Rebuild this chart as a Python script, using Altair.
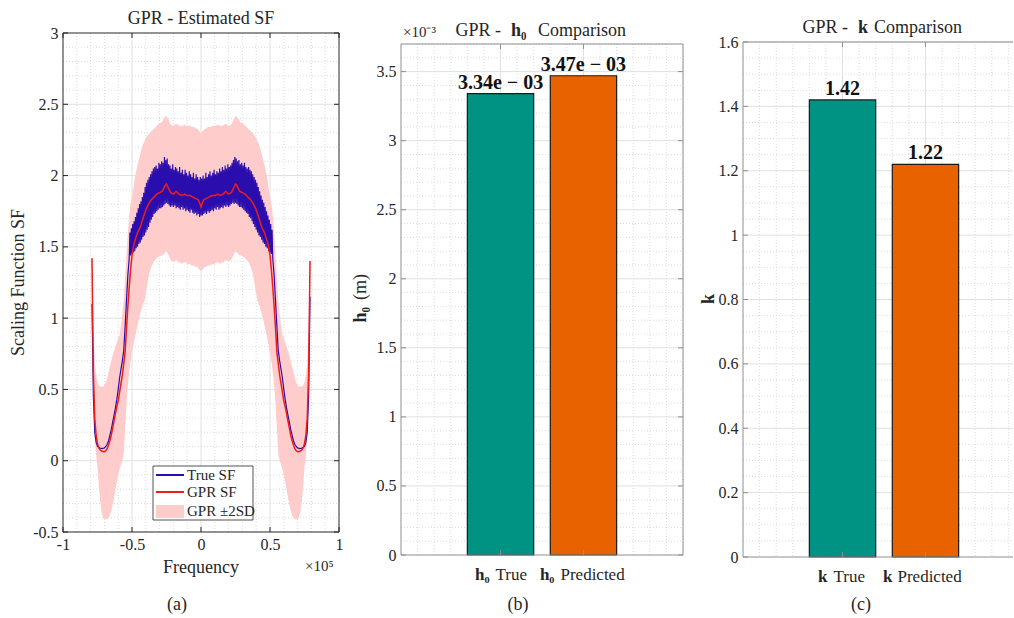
import altair as alt
import numpy as np
import pandas as pd

SERIF = "Liberation Serif"
DARK = "#262626"
BOX_GREY = "#8f8f8f"
MAJOR = "#e0e0e0"
MINOR = "#dcdcdc"

TRUE_COLOR = "#2a0dad"
GPR_COLOR = "#ee1c1c"
BAND_COLOR = "#ffcccc"

# ---------------- (a) scaling function vs. frequency ----------------
# GPR mean and +-2SD band, sampled every 0.01 (x 1e5)
freq = np.round(np.linspace(-0.79, 0.79, 159), 3)

gpr_sf = [
    1.42, 0.62, 0.30, 0.18, 0.12, 0.09, 0.075, 0.068, 0.064, 0.063,
    0.07, 0.085, 0.11, 0.14, 0.18, 0.23, 0.28, 0.33, 0.38, 0.42,
    0.48, 0.54, 0.60, 0.68, 0.76, 0.93, 1.08, 1.22, 1.34, 1.44,
    1.50, 1.54, 1.57, 1.60, 1.62, 1.64, 1.67, 1.70, 1.73, 1.76,
    1.78, 1.80, 1.815, 1.83, 1.84, 1.85, 1.86, 1.87, 1.875, 1.88,
    1.885, 1.89, 1.91, 1.93, 1.94, 1.92, 1.90, 1.88, 1.875, 1.87,
    1.88, 1.89, 1.88, 1.87, 1.865, 1.86, 1.865, 1.87, 1.865, 1.86,
    1.86, 1.86, 1.855, 1.85, 1.845, 1.84, 1.835, 1.83, 1.81,
    1.78,
    1.81, 1.83, 1.835, 1.84, 1.845, 1.85, 1.855, 1.86, 1.86, 1.86,
    1.865, 1.87, 1.865, 1.86, 1.865, 1.87, 1.88, 1.89, 1.88, 1.87,
    1.875, 1.88, 1.90, 1.92, 1.94, 1.93, 1.91, 1.89, 1.885, 1.88,
    1.875, 1.87, 1.86, 1.85, 1.84, 1.83, 1.815, 1.80, 1.78, 1.76,
    1.73, 1.70, 1.67, 1.64, 1.62, 1.60, 1.57, 1.54, 1.50, 1.44,
    1.34, 1.22, 1.08, 0.93, 0.76, 0.68, 0.60, 0.54, 0.48, 0.42,
    0.38, 0.33, 0.28, 0.23, 0.18, 0.14, 0.11, 0.085, 0.07, 0.063,
    0.064, 0.068, 0.075, 0.09, 0.12, 0.18, 0.30, 0.62, 1.40,
]

gpr_hi = [
    1.50, 0.95, 0.70, 0.60, 0.55, 0.53, 0.52, 0.52, 0.52, 0.53,
    0.55, 0.58, 0.62, 0.66, 0.70, 0.74, 0.77, 0.80, 0.83, 0.86,
    0.88, 0.95, 1.03, 1.12, 1.28, 1.45, 1.60, 1.72, 1.80, 1.85,
    1.91, 1.98, 2.03, 2.07, 2.11, 2.15, 2.19, 2.22, 2.24, 2.26,
    2.28, 2.29, 2.30, 2.31, 2.32, 2.33, 2.34, 2.35, 2.36, 2.37,
    2.37, 2.38, 2.40, 2.41, 2.42, 2.40, 2.38, 2.36, 2.35, 2.35,
    2.36, 2.36, 2.36, 2.35, 2.35, 2.35, 2.35, 2.36, 2.35, 2.35,
    2.35, 2.35, 2.34, 2.34, 2.34, 2.33, 2.33, 2.32, 2.31,
    2.29,
    2.31, 2.32, 2.33, 2.33, 2.34, 2.34, 2.34, 2.35, 2.35, 2.35,
    2.35, 2.36, 2.35, 2.35, 2.35, 2.35, 2.36, 2.36, 2.36, 2.35,
    2.35, 2.36, 2.38, 2.40, 2.42, 2.41, 2.40, 2.38, 2.37, 2.37,
    2.36, 2.35, 2.34, 2.33, 2.32, 2.31, 2.30, 2.29, 2.28, 2.26,
    2.24, 2.22, 2.19, 2.15, 2.11, 2.07, 2.03, 1.98, 1.91, 1.85,
    1.80, 1.72, 1.60, 1.45, 1.28, 1.12, 1.03, 0.95, 0.88, 0.86,
    0.83, 0.80, 0.77, 0.74, 0.70, 0.66, 0.62, 0.58, 0.55, 0.53,
    0.52, 0.52, 0.52, 0.53, 0.55, 0.60, 0.70, 0.95, 1.48,
]

gpr_lo = [
    1.35, 0.45, 0.15, 0.04, -0.05, -0.18, -0.29, -0.36, -0.40, -0.41,
    -0.41, -0.41, -0.40, -0.38, -0.35, -0.31, -0.26, -0.20, -0.15, -0.10,
    -0.06, -0.03, 0.00, 0.05, 0.22, 0.40, 0.53, 0.62, 0.70, 0.76,
    0.81, 0.86, 0.90, 0.95, 0.99, 1.03, 1.07, 1.10, 1.12, 1.17,
    1.23, 1.29, 1.33, 1.36, 1.38, 1.40, 1.41, 1.42, 1.43, 1.43,
    1.44, 1.44, 1.45, 1.46, 1.47, 1.45, 1.43, 1.41, 1.40, 1.40,
    1.40, 1.41, 1.40, 1.39, 1.39, 1.38, 1.39, 1.39, 1.39, 1.38,
    1.38, 1.38, 1.37, 1.37, 1.37, 1.36, 1.36, 1.35, 1.34,
    1.33,
    1.34, 1.35, 1.36, 1.36, 1.37, 1.37, 1.37, 1.38, 1.38, 1.38,
    1.39, 1.39, 1.39, 1.38, 1.39, 1.39, 1.40, 1.41, 1.40, 1.40,
    1.40, 1.41, 1.43, 1.45, 1.47, 1.46, 1.45, 1.44, 1.44, 1.43,
    1.43, 1.42, 1.41, 1.40, 1.38, 1.36, 1.33, 1.29, 1.23, 1.17,
    1.12, 1.10, 1.07, 1.03, 0.99, 0.95, 0.90, 0.86, 0.81, 0.76,
    0.70, 0.62, 0.53, 0.40, 0.22, 0.05, 0.00, -0.03, -0.06, -0.10,
    -0.15, -0.20, -0.26, -0.31, -0.35, -0.38, -0.40, -0.41, -0.41, -0.41,
    -0.40, -0.36, -0.29, -0.18, -0.05, 0.04, 0.15, 0.45, 1.32,
]

# True SF: smooth flanks every 0.01, oscillating plateau every 0.005
true_edge_left = [
    1.10, 0.45, 0.20, 0.13, 0.10, 0.092, 0.088, 0.085, 0.086, 0.09,
    0.10, 0.115, 0.14, 0.18, 0.22, 0.27, 0.32, 0.37, 0.43, 0.50,
    0.58, 0.64, 0.70, 0.77, 0.94, 1.12, 1.30,
]
true_plateau = [
    1.42, 1.60, 1.44, 1.63, 1.45, 1.66, 1.46, 1.68, 1.47, 1.71,
    1.49, 1.74, 1.50, 1.77, 1.52, 1.80, 1.53, 1.82, 1.55, 1.85,
    1.57, 1.88, 1.58, 1.92, 1.60, 1.95, 1.62, 1.97, 1.64, 1.99,
    1.67, 2.01, 1.69, 2.03, 1.71, 2.05, 1.73, 2.06, 1.74, 2.07,
    1.75, 2.05, 1.76, 2.09, 1.77, 2.08, 1.77, 2.10, 1.78, 2.09,
    1.79, 2.13, 1.80, 2.11, 1.81, 2.12, 1.80, 2.08, 1.79, 2.07,
    1.78, 2.05, 1.79, 2.08, 1.78, 2.04, 1.79, 2.06, 1.77, 2.05,
    1.78, 2.03, 1.77, 2.06, 1.76, 2.02, 1.78, 2.04, 1.76, 2.01,
    1.77, 2.04, 1.75, 2.02, 1.76, 2.00, 1.75, 2.03, 1.74, 2.01,
    1.76, 1.99, 1.74, 2.02, 1.73, 1.98, 1.74, 2.01, 1.72, 1.99,
    1.73, 1.97, 1.71, 1.99, 1.72,
    1.98, 1.72, 2.00, 1.73, 1.98, 1.74, 2.02, 1.73, 1.99, 1.75,
    2.01, 1.74, 2.03, 1.75, 2.00, 1.76, 2.02, 1.75, 2.04, 1.77,
    2.01, 1.76, 2.03, 1.78, 2.02, 1.76, 2.05, 1.77, 2.03, 1.78,
    2.06, 1.77, 2.04, 1.79, 2.07, 1.78, 2.05, 1.79, 2.08, 1.78,
    2.06, 1.79, 2.07, 1.80, 2.09, 1.81, 2.11, 1.80, 2.13, 1.81,
    2.12, 1.80, 2.10, 1.79, 2.11, 1.78, 2.08, 1.78, 2.09, 1.77,
    2.07, 1.76, 2.09, 1.75, 2.06, 1.74, 2.05, 1.73, 2.06, 1.71,
    2.04, 1.70, 2.03, 1.68, 2.01, 1.66, 1.99, 1.64, 1.97, 1.62,
    1.95, 1.60, 1.92, 1.58, 1.89, 1.57, 1.86, 1.55, 1.83, 1.53,
    1.81, 1.52, 1.78, 1.50, 1.75, 1.49, 1.72, 1.47, 1.69, 1.46,
    1.66, 1.45, 1.62, 1.42,
]
true_edge_right = [
    1.30, 1.12, 0.94, 0.77, 0.70, 0.64, 0.58, 0.50, 0.43, 0.37,
    0.32, 0.27, 0.22, 0.18, 0.14, 0.115, 0.10, 0.09, 0.086, 0.085,
    0.088, 0.092, 0.10, 0.13, 0.20, 0.45, 1.15,
]
true_freq = np.concatenate([
    np.linspace(-0.79, -0.53, 27), np.linspace(-0.52, 0.52, 209), np.linspace(0.53, 0.79, 27)
]).round(3)
true_sf = true_edge_left + true_plateau + true_edge_right

sf_x_ticks = [-1, -0.5, 0, 0.5, 1]
sf_y_ticks = [-0.5, 0, 0.5, 1, 1.5, 2, 2.5, 3]

# ---------------- (b), (c) parameter comparison ----------------
bar_pos = [1, 2]
bar_colors = ["#009283", "#e86200"]
h0_names = ["h0 True", "h0 Predicted"]
h0_values = [3.34e-3, 3.47e-3]
k_names = ["k True", "k Predicted"]
k_values = [1.42, 1.22]
h0_y_ticks = [0, 0.0005, 0.001, 0.0015, 0.002, 0.0025, 0.003, 0.0035]
k_y_ticks = [0, 0.2, 0.4, 0.6, 0.8, 1.0, 1.2, 1.4, 1.6]

NUM_EXPR = "datum.value < 0 ? '-' + format(-datum.value, '~g') : format(datum.value, '~g')"


def between(lo, hi, step, majors):
    vals = np.round(np.arange(lo, hi + step / 2, step), 5)
    return [float(v) for v in vals if not np.any(np.isclose(v, majors))]


def vdf(values):
    return pd.DataFrame({"v": values})


def label_axis(values, expr, pad):
    return alt.Axis(values=values, labelExpr=expr, ticks=False, tickSize=0, domain=False,
                    grid=False, labelFont=SERIF, labelFontSize=16, labelColor=DARK,
                    labelPadding=pad, labelFlush=False, labelOverlap=False, title=None)


class Frame:
    """Scales, shared axes and pixel extents of one plotting box."""

    def __init__(self, xs, ys, ax_x, ax_y, left, right, top, bottom):
        self.xs, self.ys, self.ax_x, self.ax_y = xs, ys, ax_x, ax_y
        self.l, self.r, self.t, self.b = left, right, top, bottom

    def X(self, field):
        return alt.X(field, scale=self.xs, axis=self.ax_x)

    def Y(self, field):
        return alt.Y(field, scale=self.ys, axis=self.ax_y)

    def grid(self, xmaj, xmin, ymaj, ymin):
        minor = dict(color=MINOR, strokeWidth=1, strokeDash=[1, 2])
        major = dict(color=MAJOR, strokeWidth=1)
        out = []
        for vals, style in ((xmin, minor), (xmaj, major)):
            out.append(alt.Chart(vdf(vals)).mark_rule(**style).encode(
                x=self.X("v:Q"), y=alt.value(self.t), y2=alt.value(self.b)))
        for vals, style in ((ymin, minor), (ymaj, major)):
            out.append(alt.Chart(vdf(vals)).mark_rule(**style).encode(
                y=self.Y("v:Q"), x=alt.value(self.l), x2=alt.value(self.r)))
        return out

    def ticks(self, xt, yt, color, right=True, n=5):
        out = [
            alt.Chart(vdf(xt)).mark_rule(color=color).encode(
                x=self.X("v:Q"), y=alt.value(self.b), y2=alt.value(self.b - n)),
            alt.Chart(vdf(xt)).mark_rule(color=color).encode(
                x=self.X("v:Q"), y=alt.value(self.t), y2=alt.value(self.t + n)),
            alt.Chart(vdf(yt)).mark_rule(color=color).encode(
                y=self.Y("v:Q"), x=alt.value(self.l), x2=alt.value(self.l + n)),
        ]
        if right:
            out.append(alt.Chart(vdf(yt)).mark_rule(color=color).encode(
                y=self.Y("v:Q"), x=alt.value(self.r), x2=alt.value(self.r - n)))
        return out

    def box(self, color, right=True):
        one = pd.DataFrame({"a": [0]})
        out = [
            alt.Chart(one).mark_rule(color=color).encode(
                x=alt.value(self.l), y=alt.value(self.t), y2=alt.value(self.b)),
            alt.Chart(one).mark_rule(color=color).encode(
                x=alt.value(self.l), x2=alt.value(self.r), y=alt.value(self.t)),
            alt.Chart(one).mark_rule(color=color).encode(
                x=alt.value(self.l), x2=alt.value(self.r), y=alt.value(self.b)),
        ]
        if right:
            out.append(alt.Chart(one).mark_rule(color=color).encode(
                x=alt.value(self.r), y=alt.value(self.t), y2=alt.value(self.b)))
        return out


def txt(text, x, y, size=18, weight="normal", align="center", baseline="alphabetic", angle=0):
    return alt.Chart(pd.DataFrame({"t": [text]})).mark_text(
        font=SERIF, fontSize=size, fontWeight=weight, align=align,
        baseline=baseline, angle=angle, color=DARK,
    ).encode(x=alt.value(x), y=alt.value(y), text="t:N")


NO_STROKE = alt.ViewBackground(stroke="transparent")

# ---------- panel (a) ----------
WA, HA = 276, 499
fa = Frame(
    alt.Scale(domain=[-1, 1], range=[0, WA], nice=False, zero=False),
    alt.Scale(domain=[-0.5, 3], range=[HA, 0], nice=False, zero=False),
    label_axis(sf_x_ticks, NUM_EXPR, 4), label_axis(sf_y_ticks, NUM_EXPR, 5),
    0, WA, 0, HA,
)
sf = pd.DataFrame({"freq": freq, "gpr_sf": gpr_sf, "lo": gpr_lo, "hi": gpr_hi})
sf_true = pd.DataFrame({"freq": true_freq, "true_sf": true_sf})

band = alt.Chart(sf).mark_area(color=BAND_COLOR, opacity=1).encode(
    x=fa.X("freq:Q"), y=fa.Y("lo:Q"), y2="hi:Q")
true_line = alt.Chart(sf_true).mark_line(color=TRUE_COLOR, strokeWidth=1.2).encode(
    x=fa.X("freq:Q"), y=fa.Y("true_sf:Q"))
gpr_line = alt.Chart(sf).mark_line(color=GPR_COLOR, strokeWidth=1.5).encode(
    x=fa.X("freq:Q"), y=fa.Y("gpr_sf:Q"))

one = pd.DataFrame({"a": [0]})
legend_a = [
    alt.Chart(one).mark_rect(fill="white", stroke=DARK, strokeWidth=0.8).encode(
        x=alt.value(90), x2=alt.value(190), y=alt.value(433), y2=alt.value(487)),
    alt.Chart(one).mark_rule(color=TRUE_COLOR, strokeWidth=2).encode(
        x=alt.value(93), x2=alt.value(121), y=alt.value(442)),
    alt.Chart(one).mark_rule(color=GPR_COLOR, strokeWidth=2).encode(
        x=alt.value(93), x2=alt.value(121), y=alt.value(459)),
    alt.Chart(one).mark_rect(fill=BAND_COLOR).encode(
        x=alt.value(93), x2=alt.value(121), y=alt.value(472), y2=alt.value(485)),
    txt("True SF", 124, 442, 15, align="left", baseline="middle"),
    txt("GPR SF", 124, 459, 15, align="left", baseline="middle"),
    txt("GPR ±2SD", 124, 478, 15, align="left", baseline="middle"),
]

anchor = alt.Chart(one).mark_rule(opacity=0).encode(
    x=alt.value(-62), y=alt.value(-32), y2=alt.value(-31))

panel_a = alt.layer(
    anchor,
    *fa.grid([-0.5, 0, 0.5], between(-1, 1, 0.1, sf_x_ticks),
             [0, 0.5, 1, 1.5, 2, 2.5], between(-0.5, 3, 0.1, sf_y_ticks)),
    band, true_line, gpr_line,
    *fa.box(DARK),
    *fa.ticks(sf_x_ticks, sf_y_ticks, DARK),
    *legend_a,
    txt("GPR - Estimated SF", 138, -9),
    txt("Frequency", 138, 540),
    txt("×10⁵", 242, 538, 15, align="left"),
    txt("Scaling Function SF", -44, HA / 2, angle=270, baseline="middle"),
    txt("(a)", 114, 572, baseline="middle"),
).properties(width=WA + 2, height=HA, view=NO_STROKE)


# ---------- bar panels ----------
def bar_panel(names, values, labels, W, top, bottom, ymax, yticks, ymin_step, yexpr,
              xlabels, extra, right_side):
    xmax = -0.2 + 3.4 * W / 282
    fr = Frame(
        alt.Scale(domain=[-0.2, xmax], range=[0, W], nice=False, zero=False),
        alt.Scale(domain=[0, ymax], range=[bottom, top], nice=False, zero=False),
        None, label_axis(yticks, yexpr, 5),
        0, W, top, bottom,
    )
    d = pd.DataFrame({"pos": bar_pos, "name": names, "val": values,
                      "base": [0, 0], "label": labels})
    bars = alt.Chart(d).transform_calculate(
        x0="datum.pos - 0.4", x1="datum.pos + 0.4"
    ).mark_bar(stroke="#1a1a1a", strokeWidth=1.2, opacity=1).encode(
        x=fr.X("x0:Q"), x2="x1:Q", y=fr.Y("val:Q"), y2="base:Q",
        color=alt.Color("name:N", scale=alt.Scale(domain=names, range=bar_colors), legend=None),
    )
    values_txt = alt.Chart(d).mark_text(
        font=SERIF, fontSize=20, fontWeight="bold", dy=-5, baseline="alphabetic", color="#111111",
    ).encode(x=fr.X("pos:Q"), y=fr.Y("val:Q"), text="label:N")

    xlab = []
    for pos, (bold, plain, dxb, dxn) in zip(bar_pos, xlabels):
        dl = pd.DataFrame({"pos": [pos], "b": [bold], "p": [plain]})
        xlab.append(alt.Chart(dl).mark_text(
            font=SERIF, fontSize=17, fontWeight="bold", align="right", dx=dxb, color=DARK,
        ).encode(x=fr.X("pos:Q"), y=alt.value(bottom + 20), text="b:N"))
        xlab.append(alt.Chart(dl).mark_text(
            font=SERIF, fontSize=17, align="left", dx=dxn, color=DARK,
        ).encode(x=fr.X("pos:Q"), y=alt.value(bottom + 20), text="p:N"))

    return alt.layer(
        *fr.grid(bar_pos, between(0, xmax, 0.2, bar_pos),
                 yticks[1:], between(0, ymax, ymin_step, yticks)),
        bars, values_txt,
        *fr.box(BOX_GREY, right=right_side),
        *fr.ticks(bar_pos, yticks, BOX_GREY, right=right_side),
        *xlab, *extra,
    ).properties(width=W, height=bottom, view=NO_STROKE)


def sci_label(v):
    mant, ex = f"{v:.2e}".split("e")
    return f"{mant}e − {ex.lstrip('-+')}"


# panel (b): box from 11 px to 522 px below the common top
panel_b = bar_panel(
    h0_names, h0_values, [sci_label(v) for v in h0_values], 282, 11, 522, 0.0037,
    h0_y_ticks, 0.0001, "format(datum.value * 1000, '~g')",
    [("h₀", "True", -11, -5), ("h₀", "Predicted", -29, -23)],
    [
        txt("GPR -", 100, 3, align="right"),
        txt("h₀", 110, 3, weight="bold", align="left"),
        txt("Comparison", 137, 3, align="left"),
        txt("×10⁻³", 2, 4, 15, align="left"),
        txt("h₀", -40, 274, weight="bold", align="right", baseline="middle", angle=270),
        txt("(m)", -40, 267, align="left", baseline="middle", angle=270),
        txt("(b)", 117, 572, baseline="middle"),
    ],
    True,
)

# panel (c): box from 9 px to 524 px below the common top
panel_c = bar_panel(
    k_names, k_values, [f"{v:.2f}" for v in k_values], 270, 9, 524, 1.6,
    k_y_ticks, 0.05, "format(datum.value, '~g')",
    [("k", "True", -15, -9), ("k", "Predicted", -33, -28)],
    [
        txt("GPR -", 105, 0, align="right"),
        txt("k", 115, 0, weight="bold", align="left"),
        txt("Comparison", 131, 0, align="left"),
        txt("k", -34, 266, weight="bold", baseline="middle", angle=270),
        txt("(c)", 118, 572, baseline="middle"),
    ],
    False,
)

chart = alt.hconcat(panel_a, panel_b, panel_c, spacing=60, bounds="flush").properties(
    padding=0, background="white"
)

chart.save("out.html", embed_options={"renderer": "svg", "actions": False})
